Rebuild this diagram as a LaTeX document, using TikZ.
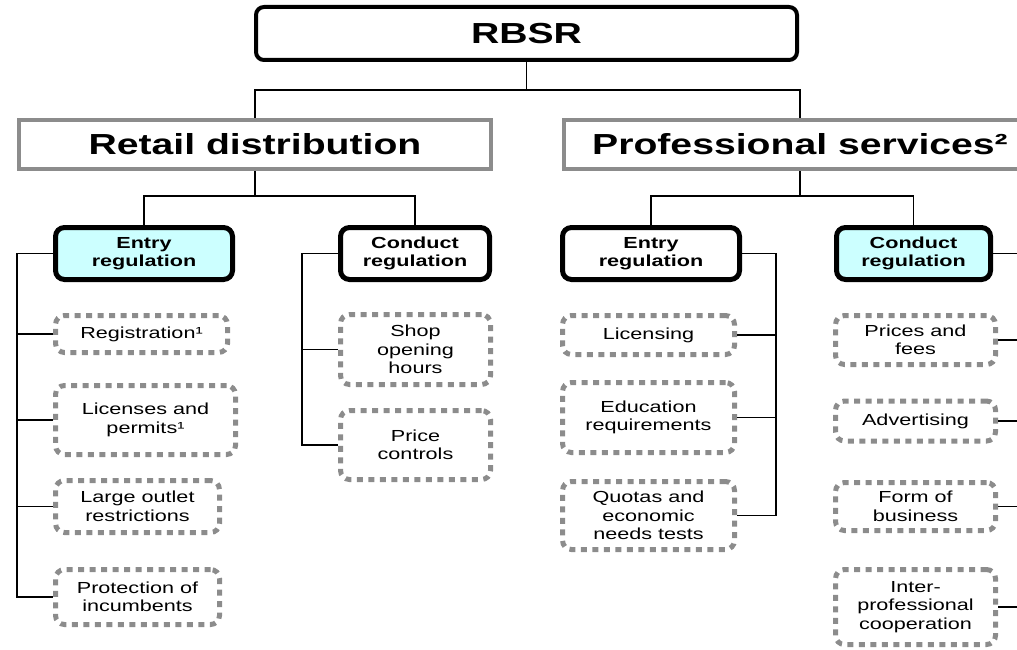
\documentclass[tikz,border=0pt]{standalone}
\usepackage{fontspec}
\setmainfont{Liberation Sans}[FakeStretch=1.35]
\usepackage{tikz}
\usetikzlibrary{calc}
\definecolor{boxgray}{RGB}{140,140,140}
\definecolor{lightcyan}{RGB}{204,255,255}

\begin{document}
\begin{tikzpicture}[
    x=1pt, y=-1pt,
    top/.style={draw, line width=4pt, rounded corners=8pt, inner sep=0pt, font=\bfseries\fontsize{29}{32}\selectfont},
    sector/.style={draw=boxgray, line width=4pt, inner sep=0pt, minimum width=472pt, minimum height=49pt, font=\bfseries\fontsize{29}{32}\selectfont},
    regbox/.style={draw, line width=5pt, rounded corners=9pt, inner sep=0pt, minimum height=52pt, align=center, font=\bfseries\fontsize{16}{17.5}\selectfont},
    item/.style={draw=boxgray, line width=5pt, dash pattern=on 6pt off 5.5pt, rounded corners=9pt, inner sep=0pt, align=center, font=\fontsize{16}{18.5}\selectfont},
    conn/.style={line width=1.2pt}
]
\useasboundingbox (0,0) rectangle (1017,650);
\clip (0,0) rectangle (1017,650);

% top and sectors
\node[top, minimum width=541pt, minimum height=53pt] (rbsr) at (526.5,33.5) {RBSR};
\node[sector] (retail) at (255,144.5) {Retail distribution};
\node[sector] (prof) at (800,144.5) {Professional services²};

% regulation boxes
\node[regbox, fill=lightcyan, minimum width=177pt] (lentry) at (144,253.5) {Entry\\regulation};
\node[regbox, minimum width=149pt] (lcond) at (415,253.5) {Conduct\\regulation};
\node[regbox, minimum width=177pt] (rentry) at (651,253.5) {Entry\\regulation};
\node[regbox, fill=lightcyan, minimum width=154pt] (rcond) at (913.5,253.5) {Conduct\\regulation};

% retail items
\node[item, minimum width=172pt, minimum height=37pt] (reg) at (141.5,334) {Registration¹};
\node[item, minimum width=180pt, minimum height=69pt] (lic) at (145.5,420) {Licenses and\\permits¹};
\node[item, minimum width=164pt, minimum height=52pt] (outlet) at (137.5,506.5) {Large outlet\\restrictions};
\node[item, minimum width=164pt, minimum height=55pt] (prot) at (137.5,597) {Protection of\\incumbents};
\node[item, minimum width=150pt, minimum height=70pt] (shop) at (415.5,349.5) {Shop\\opening\\hours};
\node[item, minimum width=150pt, minimum height=69pt] (price) at (415.5,445) {Price\\controls};

% professional items
\node[item, minimum width=172pt, minimum height=39pt] (licg) at (648.5,335) {Licensing};
\node[item, minimum width=172pt, minimum height=70pt] (edu) at (648.5,417.5) {Education\\requirements};
\node[item, minimum width=172pt, minimum height=68pt] (quota) at (648.5,515.5) {Quotas and\\economic\\needs tests};
\node[item, minimum width=160pt, minimum height=49pt] (fees) at (915.5,340) {Prices and\\fees};
\node[item, minimum width=160pt, minimum height=40pt] (adv) at (915.5,421) {Advertising};
\node[item, minimum width=160pt, minimum height=48pt] (form) at (915.5,506.5) {Form of\\business};
\node[item, minimum width=160pt, minimum height=75pt] (coop) at (915.5,607) {Inter-\\professional\\cooperation};

% split points and rails
\coordinate (tsplit) at (526.5,90);
\coordinate (lsplit) at (255,196);
\coordinate (rsplit) at (800,196);
\coordinate (lrail) at (17,0);
\coordinate (crail) at (302,0);
\coordinate (erail) at (776,0);
\coordinate (rrail) at (1040,0);

\draw[conn] (rbsr.south) -- (tsplit);
\draw[conn] (retail.north) |- (tsplit) -| (prof.north);
\draw[conn] (retail.south) -- (lsplit);
\draw[conn] (lentry.north) |- (lsplit) -| (lcond.north);
\draw[conn] (prof.south) -- (rsplit);
\draw[conn] (rentry.north) |- (rsplit) -| (rcond.north);

\draw[conn] (lentry.west) -- (lentry.west -| lrail) |- (prot.west);
\foreach \n in {reg,lic,outlet}
    \draw[conn] (\n.west) -- (\n.west -| lrail);
\draw[conn] (lcond.west) -- (lcond.west -| crail) |- (price.west);
\draw[conn] (shop.west) -- (shop.west -| crail);
\draw[conn] (rentry.east) -- (rentry.east -| erail) |- (quota.east);
\foreach \n in {licg,edu}
    \draw[conn] (\n.east) -- (\n.east -| erail);
\foreach \n in {rcond,fees,adv,form,coop}
    \draw[conn] (\n.east) -- (\n.east -| rrail);
\end{tikzpicture}
\end{document}
